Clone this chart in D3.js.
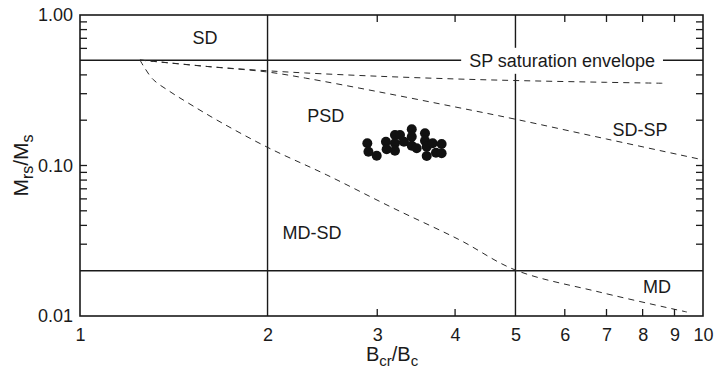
<!DOCTYPE html>
<html>
<head>
<meta charset="utf-8">
<script src="https://cdn.jsdelivr.net/npm/d3@7"></script>
<style>
  html, body { margin: 0; padding: 0; background: #fff; }
  svg { display: block; font-family: "Liberation Sans", Arial, Helvetica, sans-serif; }
</style>
</head>
<body>
<svg id="chart" width="714" height="372"></svg>
<script>
// Day plot: hysteresis ratios Mrs/Ms against Bcr/Bc (log–log)

// Sample measurements
const bcrBc = [2.892, 2.904, 2.994, 3.098, 3.106, 3.203, 3.203, 3.203, 3.263, 3.311, 3.408,
               3.408, 3.408, 3.471, 3.579, 3.579, 3.602, 3.602, 3.682, 3.727, 3.806, 3.806];
const mrsMs = [0.1405, 0.1235, 0.1162, 0.1439, 0.1281, 0.1595, 0.1405, 0.1254, 0.1595, 0.1439, 0.1739,
               0.1553, 0.1354, 0.1301, 0.1637, 0.1462, 0.1333, 0.1156, 0.1405, 0.1216, 0.1390, 0.1205];

// SP saturation envelope
const envX = [1.248, 1.6, 2.0, 2.3, 3.0, 4.0, 5.0, 7.0, 8.62];
const envY = [0.502, 0.455, 0.426, 0.412, 0.392, 0.376, 0.367, 0.357, 0.352];

// SD–SP mixing curve
const sdspX = [1.248, 1.6, 2.0, 2.3, 3.0, 4.0, 5.0, 7.0, 10.0];
const sdspY = [0.502, 0.455, 0.418, 0.381, 0.310, 0.245, 0.203, 0.150, 0.109];

// SD–MD mixing curve
const sdmdX = [1.248, 1.27, 1.311, 1.394, 1.483, 1.678, 2.0, 2.49, 3.18, 4.07, 5.0, 6.83, 9.42];
const sdmdY = [0.502, 0.445, 0.372, 0.310, 0.264, 0.195, 0.132, 0.0865, 0.0522, 0.032, 0.0202, 0.0144, 0.01063];

// Domain-state boundaries
const bcrBounds = [2, 5];
const mrsBounds = [0.5, 0.02];

// Axis ticks
const xTickValues = [1, 2, 3, 4, 5, 6, 7, 8, 9, 10];
const xMinorTicks = [3, 4, 6, 7, 8, 9];
const yTickValues = [1, 0.1, 0.01];
const yTickLabels = ["1.00", "0.10", "0.01"];
const yMinorTicks = [0.9, 0.8, 0.7, 0.6, 0.4, 0.3, 0.2, 0.1, 0.09, 0.08, 0.07, 0.06, 0.05, 0.04, 0.03];

// Region labels
const regionNames = ["SD", "PSD", "SD-SP", "MD-SD", "MD"];
const regionX = [1.587, 2.48, 7.92, 2.357, 8.44];
const regionY = [0.703, 0.213, 0.172, 0.0356, 0.0156];

const margin = { top: 15, right: 11, bottom: 56, left: 80 };
const W = 714, H = 372;
const iw = W - margin.left - margin.right;
const ih = H - margin.top - margin.bottom;

const svg = d3.select("#chart");
const g = svg.append("g").attr("transform", `translate(${margin.left},${margin.top})`);

const x = d3.scaleLog().domain([1, 10]).range([0, iw]);
const y = d3.scaleLog().domain([0.01, 1]).range([ih, 0]);

const ink = "#1a1a1a";
const tickLen = 7;
const fontSize = 18;

// Boundary lines
g.selectAll("line.vb").data(bcrBounds).join("line")
  .attr("x1", d => x(d)).attr("x2", d => x(d))
  .attr("y1", 0).attr("y2", ih)
  .attr("stroke", ink).attr("stroke-width", 1.4);
g.selectAll("line.hb").data(mrsBounds).join("line")
  .attr("x1", 0).attr("x2", iw)
  .attr("y1", d => y(d)).attr("y2", d => y(d))
  .attr("stroke", ink).attr("stroke-width", 1.4);

// Dashed curves
const curve = (xs, ys) => d3.line()
  .x((d, i) => x(xs[i])).y((d, i) => y(ys[i]))
  .curve(d3.curveCatmullRom.alpha(0.5))(xs);

[[envX, envY], [sdspX, sdspY], [sdmdX, sdmdY]].forEach(([xs, ys]) => {
  g.append("path")
    .attr("d", curve(xs, ys))
    .attr("fill", "none")
    .attr("stroke", "#2a2a2a")
    .attr("stroke-width", 1)
    .attr("stroke-dasharray", "6,5");
});

// Saturation envelope label with white backing
const envLabel = g.append("g");
const envText = envLabel.append("text")
  .attr("x", x(5.94)).attr("y", y(0.5) + 6.5)
  .attr("text-anchor", "middle")
  .attr("font-size", fontSize)
  .attr("fill", ink)
  .text("SP saturation envelope");
const bb = envText.node().getBBox();
envLabel.insert("rect", "text")
  .attr("x", bb.x - 8).attr("y", bb.y - 3)
  .attr("width", bb.width + 16).attr("height", bb.height + 6)
  .attr("fill", "#fff");

// Region labels
g.selectAll("text.region").data(regionNames).join("text")
  .attr("class", "region")
  .attr("x", (d, i) => x(regionX[i]))
  .attr("y", (d, i) => y(regionY[i]))
  .attr("text-anchor", "middle")
  .attr("dominant-baseline", "central")
  .attr("font-size", fontSize)
  .attr("fill", ink)
  .text(d => d);

// Sample points
g.selectAll("circle").data(bcrBc).join("circle")
  .attr("cx", d => x(d))
  .attr("cy", (d, i) => y(mrsMs[i]))
  .attr("r", 5)
  .attr("fill", "#111");

// Frame
g.append("rect")
  .attr("width", iw).attr("height", ih)
  .attr("fill", "none").attr("stroke", ink).attr("stroke-width", 1.6);

// Inward minor ticks on all four sides
const xt = g.append("g");
xMinorTicks.forEach(v => {
  xt.append("line").attr("x1", x(v)).attr("x2", x(v)).attr("y1", ih).attr("y2", ih - tickLen)
    .attr("stroke", ink).attr("stroke-width", 1.3);
  xt.append("line").attr("x1", x(v)).attr("x2", x(v)).attr("y1", 0).attr("y2", tickLen)
    .attr("stroke", ink).attr("stroke-width", 1.3);
});
const yt = g.append("g");
yMinorTicks.forEach(v => {
  yt.append("line").attr("x1", 0).attr("x2", tickLen).attr("y1", y(v)).attr("y2", y(v))
    .attr("stroke", ink).attr("stroke-width", 1.3);
  yt.append("line").attr("x1", iw).attr("x2", iw - tickLen).attr("y1", y(v)).attr("y2", y(v))
    .attr("stroke", ink).attr("stroke-width", 1.3);
});

// Tick labels via axis generators
const xAxis = d3.axisBottom(x).tickValues(xTickValues).tickFormat(d3.format("d")).tickSize(0).tickPadding(12);
const gx = g.append("g").attr("transform", `translate(0,${ih})`).call(xAxis);
gx.select(".domain").remove();
gx.selectAll("text").attr("font-size", fontSize).attr("fill", ink).attr("font-family", "Liberation Sans, Arial, sans-serif");

const yAxis = d3.axisLeft(y).tickValues(yTickValues)
  .tickFormat((d, i) => yTickLabels[i]).tickSize(0).tickPadding(7);
const gy = g.append("g").call(yAxis);
gy.select(".domain").remove();
gy.selectAll("text").attr("font-size", fontSize).attr("fill", ink).attr("font-family", "Liberation Sans, Arial, sans-serif");

// Axis titles with subscripts
const xTitle = svg.append("text")
  .attr("x", 392)
  .attr("y", 361)
  .attr("text-anchor", "middle")
  .attr("font-size", 20)
  .attr("fill", ink);
xTitle.append("tspan").text("B");
xTitle.append("tspan").attr("font-size", 15).attr("dy", 5).text("cr");
xTitle.append("tspan").attr("dy", -5).text("/B");
xTitle.append("tspan").attr("font-size", 15).attr("dy", 5).text("c");

const yTitle = svg.append("text")
  .attr("transform", `translate(28,${margin.top + y(0.1)}) rotate(-90)`)
  .attr("text-anchor", "middle")
  .attr("font-size", 21)
  .attr("fill", ink);
yTitle.append("tspan").text("M");
yTitle.append("tspan").attr("font-size", 16).attr("dy", 5).text("rs");
yTitle.append("tspan").attr("dy", -5).text("/M");
yTitle.append("tspan").attr("font-size", 16).attr("dy", 5).text("s");
</script>
</body>
</html>
